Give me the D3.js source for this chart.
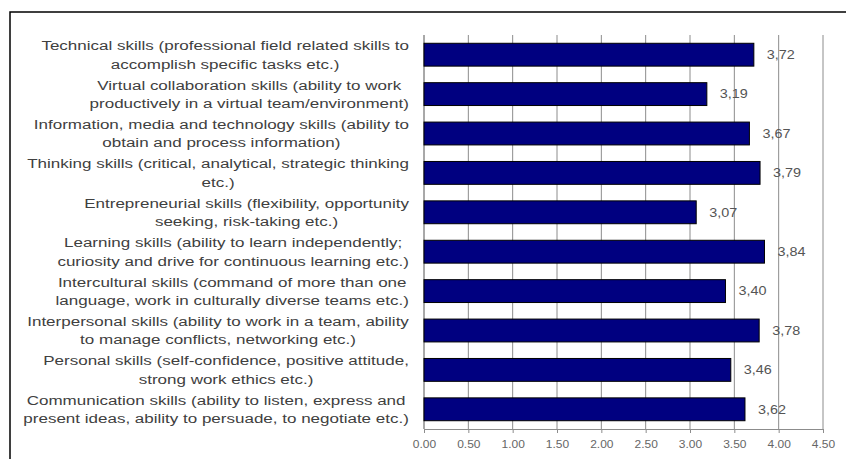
<!DOCTYPE html>
<html>
<head>
<meta charset="utf-8">
<script src="https://cdn.jsdelivr.net/npm/d3@7"></script>
<style>
  body { margin: 0; background: #fff; }
  svg { display: block; font-family: "Liberation Sans", Arial, sans-serif; }
</style>
</head>
<body>
<script>
// category labels, two lines each, top to bottom
var categories = [
  ["Technical skills (professional field related skills to", "accomplish specific tasks etc.)"],
  ["Virtual collaboration skills (ability to work", "productively in a virtual team/environment)"],
  ["Information, media and technology skills (ability to", "obtain and process information)"],
  ["Thinking skills (critical, analytical, strategic thinking", "etc.)"],
  ["Entrepreneurial skills (flexibility, opportunity", "seeking, risk-taking etc.)"],
  ["Learning skills (ability to learn independently;", "curiosity and drive for continuous learning etc.)"],
  ["Intercultural skills (command of more than one", "language, work in culturally diverse teams etc.)"],
  ["Interpersonal skills (ability to work in a team, ability", "to manage conflicts, networking etc.)"],
  ["Personal skills (self-confidence, positive attitude,", "strong work ethics etc.)"],
  ["Communication skills (ability to listen, express and", "present ideas, ability to persuade, to negotiate etc.)"]
];
var values = [3.72, 3.19, 3.67, 3.79, 3.07, 3.84, 3.40, 3.78, 3.46, 3.62];
var xTicks = [0, 0.5, 1, 1.5, 2, 2.5, 3, 3.5, 4, 4.5];

var width = 846, height = 459;
var sx = 1.2;    // the original picture is stretched sideways
var sxCat = 1.26;

var svg = d3.select("body").append("svg")
    .attr("width", width)
    .attr("height", height);

// outer frame (only left and top edges fall inside the picture)
svg.append("rect")
    .attr("x", 10).attr("y", 12)
    .attr("width", 900).attr("height", 600)
    .attr("fill", "none")
    .attr("stroke", "#000")
    .attr("stroke-width", 1.5);

var x = d3.scaleLinear().domain([0, 4.5]).range([424, 823]);
var y = d3.scaleBand()
    .domain(d3.range(values.length))
    .range([35, 429])
    .paddingInner(0.42)
    .paddingOuter(0.21);

// vertical gridlines
svg.append("g").selectAll("line")
    .data(xTicks)
  .enter().append("line")
    .attr("x1", function(d) { return x(d); })
    .attr("x2", function(d) { return x(d); })
    .attr("y1", 35)
    .attr("y2", 429)
    .attr("stroke", "#8c8c8c")
    .attr("stroke-width", 1);

// bottom axis
var xAxis = d3.axisBottom(x)
    .tickValues(xTicks)
    .tickFormat(d3.format(".2f"))
    .tickSize(4)
    .tickSizeOuter(0);
var gx = svg.append("g")
    .attr("transform", "translate(0,429)")
    .call(xAxis);
gx.select(".domain").attr("stroke", "#8c8c8c");
gx.selectAll(".tick line").attr("stroke", "#8c8c8c");
gx.selectAll(".tick text")
    .attr("y", 0)
    .attr("dy", "0")
    .attr("transform", "translate(0,19) scale(" + sx + ",1)")
    .style("font-family", "'Liberation Sans', Arial, sans-serif")
    .style("font-size", "10px")
    .attr("fill", "#666");

// left axis line
svg.append("line")
    .attr("x1", x(0)).attr("x2", x(0))
    .attr("y1", 35).attr("y2", 429)
    .attr("stroke", "#8c8c8c");

// bars
svg.append("g").selectAll("rect")
    .data(values)
  .enter().append("rect")
    .attr("x", x(0))
    .attr("y", function(d, i) { return y(i); })
    .attr("width", function(d) { return x(d) - x(0); })
    .attr("height", y.bandwidth())
    .attr("fill", "#000080")
    .attr("stroke", "#000")
    .attr("stroke-width", 1);

// value labels (comma decimals)
var fmt = d3.format(".2f");
svg.append("g").selectAll("text")
    .data(values)
  .enter().append("text")
    .attr("transform", function(d, i) {
      return "translate(" + (x(d) + 13) + "," + (y(i) + y.bandwidth() / 2) + ") scale(" + sx + ",1)";
    })
    .attr("dy", "0.35em")
    .attr("font-size", "12px")
    .attr("fill", "#555")
    .text(function(d) { return fmt(d).replace(".", ","); });

// category labels: block right-aligned to the axis, lines centred inside it
var labelRight = 409, lineH = 18.5;
var lg = svg.append("g")
    .attr("font-size", "13.5px")
    .attr("fill", "#404040");
categories.forEach(function(lines, i) {
  var cy = y(i) + y.bandwidth() / 2;
  var texts = lines.map(function(t) {
    return lg.append("text")
      .attr("dy", "0.35em")
      .attr("text-anchor", "middle")
      .text(t);
  });
  var maxW = d3.max(texts, function(t) { return t.node().getComputedTextLength(); }) * sxCat;
  texts.forEach(function(t, k) {
    var ty = cy + (k - (lines.length - 1) / 2) * lineH;
    t.attr("transform", "translate(" + (labelRight - maxW / 2) + "," + ty + ") scale(" + sxCat + ",1)");
  });
});
</script>
</body>
</html>
